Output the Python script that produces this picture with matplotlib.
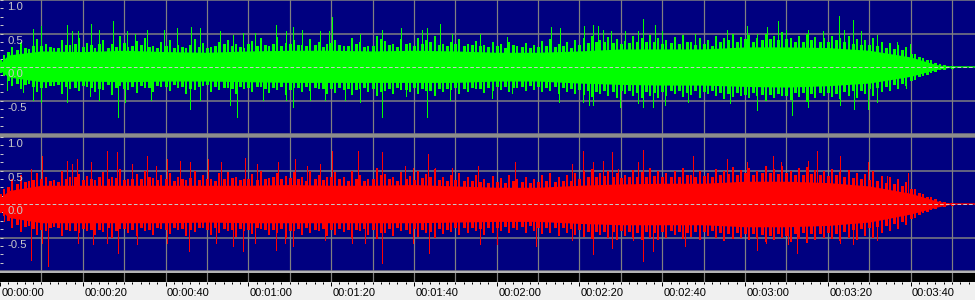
import matplotlib
matplotlib.use("Agg")
import matplotlib.pyplot as plt
import numpy as np
from matplotlib.patches import Rectangle
import matplotlib.transforms as mtransforms

# ---------------- data ----------------
# solid core of the waveform (time in s, amplitude)
CORE_T = [0, 2, 10, 20, 30, 40, 50, 60, 70, 80, 90, 100, 110, 120, 130, 140, 150, 160,
          170, 180, 190, 200, 210, 220, 226, 230]
GREEN_CORE_UP = [0.06, 0.18, 0.24, 0.23, 0.25, 0.23, 0.22, 0.24, 0.25, 0.25, 0.24, 0.25,
                 0.24, 0.22, 0.22, 0.24, 0.27, 0.27, 0.27, 0.30, 0.30, 0.29, 0.25, 0.15,
                 0.04, 0.0]
GREEN_CORE_DN = [-0.05, -0.15, -0.22, -0.21, -0.22, -0.21, -0.21, -0.22, -0.23, -0.23,
                 -0.23, -0.23, -0.23, -0.21, -0.21, -0.24, -0.26, -0.27, -0.27, -0.29,
                 -0.30, -0.28, -0.24, -0.14, -0.04, 0.0]
RED_CORE_UP = [0.08, 0.20, 0.28, 0.28, 0.28, 0.28, 0.28, 0.28, 0.29, 0.28, 0.28, 0.29,
               0.27, 0.25, 0.25, 0.28, 0.30, 0.31, 0.31, 0.34, 0.34, 0.32, 0.27, 0.16,
               0.05, 0.0]
RED_CORE_DN = [-0.08, -0.20, -0.28, -0.28, -0.28, -0.28, -0.27, -0.28, -0.28, -0.28,
               -0.28, -0.28, -0.27, -0.26, -0.26, -0.29, -0.31, -0.31, -0.31, -0.34,
               -0.34, -0.32, -0.27, -0.15, -0.05, 0.0]

# ragged edge of the dense body at even seconds 0..230 s
BODY_T = list(range(0, 232, 2))
GREEN_BODY_UP = [0.10, 0.22, 0.25, 0.28, 0.31, 0.32, 0.30, 0.28, 0.33, 0.34,
                 0.30, 0.33, 0.34, 0.28, 0.30, 0.36, 0.31, 0.33, 0.30, 0.28,
                 0.31, 0.28, 0.30, 0.33, 0.30, 0.28, 0.31, 0.34, 0.32, 0.30,
                 0.34, 0.31, 0.33, 0.35, 0.32, 0.35, 0.33, 0.31, 0.33, 0.30,
                 0.36, 0.33, 0.31, 0.35, 0.30, 0.32, 0.42, 0.33, 0.30, 0.34,
                 0.31, 0.35, 0.38, 0.33, 0.31, 0.34, 0.32, 0.33, 0.31, 0.30,
                 0.31, 0.29, 0.33, 0.30, 0.28, 0.30, 0.32, 0.30, 0.31, 0.28,
                 0.33, 0.36, 0.37, 0.38, 0.36, 0.35, 0.36, 0.38, 0.37, 0.38,
                 0.35, 0.36, 0.35, 0.38, 0.33, 0.35, 0.32, 0.37, 0.40, 0.38,
                 0.42, 0.38, 0.40, 0.42, 0.40, 0.42, 0.38, 0.37, 0.40, 0.38,
                 0.37, 0.40, 0.37, 0.35, 0.33, 0.33, 0.31, 0.29, 0.27, 0.25,
                 0.20, 0.15, 0.11, 0.06, 0.03, 0.01]
GREEN_BODY_DN = [-0.08, -0.20, -0.24, -0.26, -0.28, -0.30, -0.27, -0.25, -0.29, -0.30,
                 -0.27, -0.30, -0.32, -0.26, -0.30, -0.31, -0.28, -0.27, -0.30, -0.27,
                 -0.29, -0.26, -0.28, -0.32, -0.29, -0.26, -0.28, -0.30, -0.31, -0.28,
                 -0.30, -0.28, -0.31, -0.30, -0.29, -0.33, -0.30, -0.29, -0.30, -0.31,
                 -0.32, -0.30, -0.31, -0.33, -0.30, -0.31, -0.36, -0.31, -0.30, -0.33,
                 -0.30, -0.32, -0.35, -0.31, -0.32, -0.30, -0.31, -0.30, -0.32, -0.30,
                 -0.29, -0.28, -0.30, -0.28, -0.27, -0.29, -0.30, -0.29, -0.30, -0.31,
                 -0.33, -0.35, -0.36, -0.35, -0.36, -0.34, -0.35, -0.37, -0.36, -0.38,
                 -0.36, -0.35, -0.34, -0.37, -0.34, -0.36, -0.34, -0.37, -0.39, -0.37,
                 -0.40, -0.38, -0.40, -0.41, -0.39, -0.42, -0.38, -0.37, -0.39, -0.38,
                 -0.37, -0.39, -0.36, -0.35, -0.34, -0.32, -0.30, -0.28, -0.26, -0.24,
                 -0.19, -0.14, -0.10, -0.06, -0.03, -0.01]
RED_BODY_UP = [0.15, 0.25, 0.30, 0.33, 0.36, 0.38, 0.35, 0.33, 0.38, 0.40,
               0.36, 0.38, 0.40, 0.37, 0.39, 0.36, 0.38, 0.37, 0.40, 0.36,
               0.38, 0.35, 0.37, 0.39, 0.36, 0.38, 0.35, 0.37, 0.39, 0.36,
               0.38, 0.36, 0.38, 0.40, 0.37, 0.39, 0.37, 0.35, 0.37, 0.36,
               0.40, 0.37, 0.35, 0.38, 0.35, 0.37, 0.44, 0.37, 0.35, 0.38,
               0.36, 0.39, 0.41, 0.36, 0.35, 0.36, 0.34, 0.35, 0.33, 0.32,
               0.33, 0.32, 0.35, 0.33, 0.32, 0.33, 0.34, 0.33, 0.35, 0.34,
               0.38, 0.40, 0.41, 0.42, 0.40, 0.39, 0.40, 0.41, 0.40, 0.42,
               0.40, 0.41, 0.40, 0.43, 0.41, 0.42, 0.40, 0.43, 0.45, 0.43,
               0.46, 0.44, 0.46, 0.47, 0.45, 0.46, 0.44, 0.43, 0.45, 0.44,
               0.42, 0.44, 0.41, 0.39, 0.37, 0.36, 0.34, 0.32, 0.30, 0.27,
               0.22, 0.16, 0.11, 0.07, 0.03, 0.01]
RED_BODY_DN = [-0.12, -0.24, -0.30, -0.33, -0.36, -0.38, -0.35, -0.34, -0.37, -0.39,
               -0.36, -0.38, -0.37, -0.35, -0.39, -0.36, -0.38, -0.35, -0.37, -0.35,
               -0.38, -0.34, -0.36, -0.38, -0.35, -0.37, -0.35, -0.36, -0.38, -0.36,
               -0.37, -0.35, -0.38, -0.37, -0.36, -0.39, -0.36, -0.35, -0.37, -0.36,
               -0.38, -0.36, -0.37, -0.38, -0.36, -0.37, -0.42, -0.36, -0.35, -0.38,
               -0.36, -0.38, -0.40, -0.36, -0.37, -0.35, -0.34, -0.35, -0.36, -0.34,
               -0.35, -0.33, -0.34, -0.33, -0.32, -0.34, -0.35, -0.34, -0.35, -0.36,
               -0.38, -0.40, -0.41, -0.40, -0.41, -0.39, -0.40, -0.42, -0.41, -0.42,
               -0.40, -0.39, -0.40, -0.42, -0.40, -0.41, -0.39, -0.42, -0.44, -0.42,
               -0.44, -0.43, -0.45, -0.46, -0.44, -0.46, -0.43, -0.42, -0.44, -0.43,
               -0.42, -0.43, -0.40, -0.38, -0.36, -0.35, -0.33, -0.31, -0.29, -0.26,
               -0.21, -0.15, -0.10, -0.06, -0.03, -0.01]

# thin hairs of the body at odd seconds 1..229 s
HAIR_T = list(range(1, 230, 2))
GREEN_HAIR_UP = [0.18, 0.30, 0.38, 0.27, 0.42, 0.35, 0.29, 0.40, 0.33, 0.44,
                 0.36, 0.28, 0.41, 0.34, 0.46, 0.30, 0.39, 0.43, 0.31, 0.37,
                 0.40, 0.33, 0.29, 0.42, 0.36, 0.30, 0.38, 0.41, 0.34, 0.29,
                 0.39, 0.43, 0.31, 0.45, 0.36, 0.40, 0.33, 0.42, 0.37, 0.35,
                 0.41, 0.32, 0.44, 0.37, 0.31, 0.47, 0.39, 0.35, 0.42, 0.36,
                 0.44, 0.40, 0.47, 0.34, 0.38, 0.42, 0.35, 0.39, 0.33, 0.37,
                 0.34, 0.38, 0.31, 0.36, 0.33, 0.39, 0.42, 0.35, 0.38, 0.41,
                 0.44, 0.47, 0.40, 0.45, 0.42, 0.39, 0.46, 0.43, 0.48, 0.44,
                 0.41, 0.45, 0.48, 0.38, 0.43, 0.40, 0.46, 0.44, 0.49, 0.45,
                 0.48, 0.44, 0.50, 0.46, 0.52, 0.43, 0.47, 0.49, 0.45, 0.44,
                 0.47, 0.43, 0.46, 0.42, 0.40, 0.44, 0.37, 0.36, 0.33, 0.30,
                 0.20, 0.14, 0.10, 0.05, 0.02]
GREEN_HAIR_DN = [-0.14, -0.28, -0.33, -0.25, -0.37, -0.31, -0.28, -0.40, -0.33, -0.36,
                 -0.30, -0.38, -0.34, -0.42, -0.29, -0.35, -0.39, -0.32, -0.37, -0.30,
                 -0.36, -0.31, -0.40, -0.34, -0.28, -0.38, -0.35, -0.32, -0.41, -0.33,
                 -0.37, -0.30, -0.39, -0.35, -0.42, -0.32, -0.38, -0.36, -0.33, -0.40,
                 -0.39, -0.35, -0.42, -0.33, -0.38, -0.44, -0.36, -0.40, -0.34, -0.37,
                 -0.41, -0.36, -0.43, -0.38, -0.35, -0.40, -0.37, -0.33, -0.39, -0.36,
                 -0.34, -0.37, -0.32, -0.36, -0.34, -0.38, -0.36, -0.41, -0.37, -0.40,
                 -0.42, -0.45, -0.40, -0.43, -0.46, -0.41, -0.44, -0.47, -0.43, -0.46,
                 -0.43, -0.40, -0.45, -0.42, -0.47, -0.41, -0.44, -0.48, -0.45, -0.43,
                 -0.47, -0.44, -0.50, -0.46, -0.43, -0.49, -0.45, -0.52, -0.47, -0.44,
                 -0.45, -0.48, -0.43, -0.46, -0.41, -0.43, -0.38, -0.36, -0.33, -0.29,
                 -0.19, -0.13, -0.09, -0.05, -0.02]
RED_HAIR_UP = [0.22, 0.38, 0.43, 0.34, 0.47, 0.40, 0.36, 0.49, 0.41, 0.45,
               0.42, 0.36, 0.48, 0.40, 0.52, 0.37, 0.45, 0.50, 0.39, 0.44,
               0.47, 0.40, 0.36, 0.49, 0.43, 0.38, 0.46, 0.48, 0.41, 0.37,
               0.45, 0.50, 0.39, 0.47, 0.42, 0.48, 0.40, 0.49, 0.44, 0.41,
               0.48, 0.40, 0.50, 0.43, 0.38, 0.53, 0.45, 0.41, 0.48, 0.42,
               0.50, 0.45, 0.52, 0.40, 0.44, 0.47, 0.41, 0.44, 0.38, 0.42,
               0.39, 0.43, 0.37, 0.41, 0.38, 0.44, 0.46, 0.40, 0.43, 0.46,
               0.49, 0.52, 0.46, 0.50, 0.47, 0.44, 0.51, 0.48, 0.53, 0.49,
               0.46, 0.50, 0.53, 0.44, 0.49, 0.46, 0.52, 0.49, 0.55, 0.51,
               0.54, 0.50, 0.56, 0.52, 0.57, 0.49, 0.53, 0.55, 0.51, 0.50,
               0.52, 0.48, 0.51, 0.47, 0.45, 0.49, 0.42, 0.40, 0.37, 0.33,
               0.22, 0.15, 0.10, 0.05, 0.02]
RED_HAIR_DN = [-0.18, -0.36, -0.42, -0.33, -0.46, -0.40, -0.35, -0.48, -0.41, -0.44,
               -0.40, -0.47, -0.42, -0.50, -0.37, -0.44, -0.48, -0.40, -0.46, -0.38,
               -0.45, -0.39, -0.48, -0.42, -0.36, -0.46, -0.43, -0.40, -0.49, -0.41,
               -0.45, -0.38, -0.47, -0.43, -0.50, -0.40, -0.46, -0.44, -0.41, -0.48,
               -0.47, -0.42, -0.50, -0.41, -0.46, -0.52, -0.43, -0.48, -0.41, -0.45,
               -0.49, -0.43, -0.51, -0.45, -0.42, -0.47, -0.44, -0.40, -0.46, -0.43,
               -0.41, -0.44, -0.39, -0.43, -0.41, -0.45, -0.43, -0.48, -0.44, -0.47,
               -0.49, -0.52, -0.47, -0.50, -0.53, -0.48, -0.51, -0.54, -0.50, -0.53,
               -0.50, -0.47, -0.52, -0.49, -0.54, -0.48, -0.51, -0.55, -0.52, -0.50,
               -0.54, -0.51, -0.57, -0.53, -0.50, -0.56, -0.52, -0.58, -0.54, -0.51,
               -0.52, -0.55, -0.50, -0.53, -0.48, -0.50, -0.44, -0.41, -0.37, -0.32,
               -0.21, -0.14, -0.09, -0.05, -0.02]

# isolated peaks (time in s, amplitude)
GREEN_UP_T = [8.05, 9.9, 16.1, 17.3, 18.9, 22.0, 23.9, 27.4, 30.6, 32.6, 35.4, 39.7, 42.7,
              46.1, 48.3, 53.1, 56.4, 58.8, 61.6, 66.8, 69.2, 70.9, 72.9, 77.3, 79.5, 80.3,
              87.0, 92.2, 97.0, 101.9, 103.1, 106.3, 109.1, 116.0, 122.4, 133.1, 135.3,
              141.2, 143.3, 144.5, 145.6, 147.6, 151.0, 154.2, 155.4, 158.2, 159.9, 167.9,
              175.6, 180.4, 182.8, 185.2, 187.9, 190.0, 195.3, 198.9, 202.8, 203.9, 206.2,
              207.9, 211.8, 216.6, 219.8]
GREEN_UP_V = [0.56, 0.61, 0.63, 0.53, 0.53, 0.64, 0.55, 0.69, 0.53, 0.50, 0.55, 0.55, 0.58,
              0.60, 0.58, 0.53, 0.48, 0.51, 0.51, 0.63, 0.53, 0.60, 0.55, 0.53, 0.53, 0.75,
              0.50, 0.55, 0.58, 0.55, 0.58, 0.64, 0.50, 0.50, 0.45, 0.60, 0.58,
              0.61, 0.63, 0.61, 0.55, 0.54, 0.53, 0.53, 0.72, 0.63, 0.53, 0.50,
              0.55, 0.61, 0.50, 0.59, 0.69, 0.55, 0.55, 0.53, 0.76, 0.55, 0.70,
              0.53, 0.48, 0.38, 0.35]
GREEN_DN_T = [1.6, 5.5, 8.05, 9.9, 16.1, 21.7, 23.8, 28.6, 30.2, 36.6, 45.9, 48.3, 55.6,
              57.3, 63.6, 69.2, 70.9, 74.9, 78.5, 83.3, 87.0, 92.2, 98.2, 103.1, 108.7,
              118.8, 123.6, 135.1, 140.9, 142.4, 143.3, 149.9, 154.2, 155.4, 157.8, 160.7,
              166.3, 176.4, 183.0, 191.3, 195.3, 202.9, 206.3, 209.8, 211.8, 219.0]
GREEN_DN_V = [-0.34, -0.38, -0.49, -0.52, -0.52, -0.44, -0.49, -0.74, -0.52, -0.49, -0.62,
              -0.49, -0.57, -0.74, -0.49, -0.49, -0.59, -0.49, -0.49, -0.49, -0.52, -0.74,
              -0.44, -0.74, -0.49, -0.47, -0.39, -0.52, -0.52, -0.57, -0.57, -0.59, -0.54,
              -0.59, -0.59, -0.57, -0.52, -0.54, -0.64, -0.72, -0.59, -0.57, -0.62, -0.62,
              -0.52, -0.32]
RED_UP_T = [7.6, 10.1, 16.1, 17.3, 18.7, 22.1, 25.8, 28.2, 31.8, 35.4, 37.8, 40.3, 43.5,
            45.9, 50.3, 53.5, 59.2, 62.0, 67.2, 71.3, 74.1, 77.3, 80.3, 86.6, 92.2, 97.8,
            99.9, 103.5, 105.1, 109.1, 115.6, 124.4, 138.1, 140.9, 143.3, 145.7, 147.8,
            149.4, 154.2, 155.4, 167.5, 175.6, 180.4, 186.8, 188.8, 195.3, 197.3, 202.9,
            209.8, 214.2, 219.4]
RED_UP_V = [0.52, 0.72, 0.64, 0.59, 0.67, 0.62, 0.79, 0.78, 0.59, 0.72, 0.57, 0.67, 0.64,
            0.62, 0.67, 0.62, 0.69, 0.59, 0.62, 0.67, 0.57, 0.59, 0.79, 0.79, 0.78, 0.57,
            0.54, 0.74, 0.54, 0.54, 0.57, 0.63, 0.59, 0.79, 0.62, 0.64, 0.77,
            0.52, 0.62, 0.81, 0.72, 0.67, 0.62, 0.71, 0.63, 0.64, 0.79, 0.71,
            0.62, 0.42, 0.47]
RED_DN_T = [1.0, 7.6, 10.1, 11.5, 18.9, 22.4, 25.8, 28.6, 33.0, 40.3, 45.7, 52.3, 56.4,
            58.8, 61.6, 66.8, 68.8, 70.9, 78.5, 85.0, 88.2, 92.2, 99.9, 103.6, 116.0, 120.0,
            129.4, 138.1, 143.3, 147.8, 153.0, 155.4, 157.8, 165.5, 182.8, 185.1, 190.5,
            192.5, 202.9, 206.2, 211.8, 219.0]
RED_DN_V = [-0.25, -0.83, -0.58, -0.93, -0.58, -0.60, -0.58, -0.73, -0.60, -0.58, -0.70,
            -0.58, -0.63, -0.70, -0.58, -0.68, -0.58, -0.63, -0.53, -0.58, -0.58, -0.88,
            -0.58, -0.73, -0.60, -0.60, -0.62, -0.53, -0.75, -0.65, -0.53, -0.85, -0.70,
            -0.63, -0.68, -0.58, -0.60, -0.73, -0.58, -0.60, -0.53, -0.30]

Y_LABEL_VALUES = [1.0, 0.5, 0.0, -0.5]
Y_LABELS = ["1.0", "0.5", "0.0", "-0.5"]
TIME_TICKS = [0, 20, 40, 60, 80, 100, 120, 140, 160, 180, 200, 220]
TIME_LABELS = ["00:00:00", "00:00:20", "00:00:40", "00:01:00", "00:01:20", "00:01:40",
               "00:02:00", "00:02:20", "00:02:40", "00:03:00", "00:03:20", "00:03:40"]

# ---------------- styling / layout ----------------
W, H = 975, 300
XMAX = 235.56
BG = "#000080"
GRID = "#808080"
LBL = "#c8c8c8"
PX = 72.0 / 100.0  # one pixel in points

fig = plt.figure(figsize=(W / 100, H / 100), dpi=100, facecolor="#f0f0f0")


def add_rect(top, bottom, color):
    fig.patches.append(Rectangle((0, 1 - bottom / H), 1, (bottom - top) / H,
                                 transform=fig.transFigure, facecolor=color,
                                 edgecolor="none", zorder=0))


def panel(top, bottom, color, core, body, hair, peaks):
    ax = fig.add_axes([0, 1 - bottom / H, 1, (bottom - top) / H])
    ax.set_facecolor(BG)
    ax.set_xlim(0, XMAX)
    ax.set_ylim(-1, 1)
    for s in ax.spines.values():
        s.set_visible(False)
    # grid
    for x in np.arange(10, XMAX, 10):
        ax.axvline(x, color=GRID, lw=PX * 1.2, zorder=1)
    for y in (-1, -0.5, 0.5, 1):
        ax.axhline(y, color=GRID, lw=PX * 1.5, zorder=1)
    # waveform
    ax.plot([0, XMAX], [0, 0], color=color, lw=PX * 1.5, zorder=2)
    ax.fill_between(CORE_T, core[1], core[0], color=color, lw=0, zorder=2)
    ax.vlines(BODY_T, body[1], body[0], color=color, lw=PX * 3, zorder=2,
              antialiased=False)
    ax.vlines(HAIR_T, hair[1], hair[0], color=color, lw=PX * 2, zorder=2,
              antialiased=False)
    ax.vlines(peaks[0], 0, peaks[1], color=color, lw=PX, zorder=2,
              antialiased=False)
    ax.vlines(peaks[2], 0, peaks[3], color=color, lw=PX, zorder=2,
              antialiased=False)
    # centre dashed line
    ax.axhline(0, color=LBL, lw=PX * 1.0, dashes=(3.6, 2.2), zorder=3)
    # left ticks
    ax.set_xticks([])
    ax.set_yticks(np.arange(-1, 1.001, 0.125))
    ax.tick_params(axis="y", direction="in", length=2.2, width=PX, color=LBL,
                   labelleft=False, pad=0)
    tr = mtransforms.blended_transform_factory(ax.transAxes, ax.transData)
    for v, s in zip(Y_LABEL_VALUES, Y_LABELS):
        ax.text(7 / W, v - 0.035, s, transform=tr, va="top", ha="left",
                color=LBL, fontsize=8.2, family="Liberation Sans", zorder=4)
    return ax


add_rect(134, 137, "#8c8c8c")
add_rect(271, 273, "#b4b4b4")

panel(0, 134, "#00ff00", (GREEN_CORE_UP, GREEN_CORE_DN), (GREEN_BODY_UP, GREEN_BODY_DN),
      (GREEN_HAIR_UP, GREEN_HAIR_DN), (GREEN_UP_T, GREEN_UP_V, GREEN_DN_T, GREEN_DN_V))
panel(137, 271, "#ff0000", (RED_CORE_UP, RED_CORE_DN), (RED_BODY_UP, RED_BODY_DN),
      (RED_HAIR_UP, RED_HAIR_DN), (RED_UP_T, RED_UP_V, RED_DN_T, RED_DN_V))

# black time bar with ruler below
axb = fig.add_axes([0, 1 - 282 / H, 1, 9 / H])
axb.set_facecolor("black")
axb.set_xlim(0, XMAX)
axb.set_ylim(0, 1)
for s in axb.spines.values():
    s.set_visible(False)
for x in np.arange(10, XMAX, 10):
    axb.axvline(x, color=GRID, lw=PX * 1.2)
axb.set_yticks([])
axb.set_xticks(TIME_TICKS)
axb.set_xticks(np.arange(0, XMAX, 2), minor=True)
axb.set_xticklabels(TIME_LABELS, ha="left", fontsize=8, family="Liberation Sans",
                    color="black")
axb.tick_params(axis="x", which="major", direction="out", length=3.2, width=PX,
                color="black", pad=1.2)
axb.tick_params(axis="x", which="minor", direction="out", length=1.4, width=PX,
                color="black")
off = mtransforms.ScaledTranslation(1.5 / 100, 0, fig.dpi_scale_trans)
for lab in axb.get_xticklabels():
    lab.set_transform(lab.get_transform() + off)

fig.savefig("out.png", dpi=100, facecolor=fig.get_facecolor())
